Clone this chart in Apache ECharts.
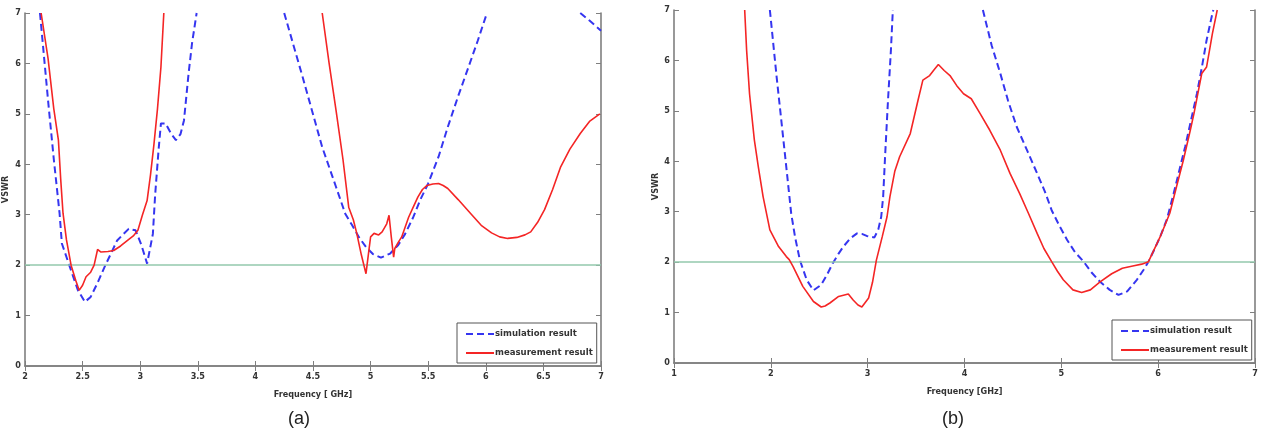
<!DOCTYPE html>
<html>
<head>
<meta charset="UTF-8">
<script src="https://cdn.jsdelivr.net/npm/echarts@6/dist/echarts.min.js"></script>
<style>
  html, body { margin: 0; padding: 0; background: #fff; }
  #main { width: 1261px; height: 430px; }
</style>
</head>
<body>
<div id="main"></div>
<script>
// VSWR threshold drawn as the green reference line
var vswrLimit = 2;

// (a) simulation / measurement, [GHz, VSWR]; '-' breaks the curve where it leaves the plot
var simA = [[2.13,7],[2.20,5.27],[2.25,4.1],[2.30,3.03],[2.32,2.43],[2.39,1.96],[2.46,1.5],[2.52,1.27],[2.57,1.37],
  [2.63,1.65],[2.69,1.96],[2.80,2.49],[2.90,2.72],[2.96,2.69],[3.01,2.4],[3.06,2.03],[3.11,2.62],[3.13,3.4],
  [3.16,4.3],[3.18,4.81],[3.22,4.81],[3.27,4.6],[3.31,4.48],[3.35,4.6],[3.38,4.87],[3.42,5.8],[3.45,6.4],[3.49,7],
  ['-','-'],
  [4.25,7],[4.41,5.73],[4.58,4.34],[4.70,3.55],[4.78,3.02],[4.84,2.79],[4.90,2.55],[4.96,2.36],[5.02,2.22],
  [5.09,2.15],[5.17,2.23],[5.24,2.4],[5.30,2.62],[5.37,2.95],[5.43,3.29],[5.50,3.62],[5.59,4.15],[5.67,4.74],
  [5.76,5.35],[5.85,5.93],[5.93,6.45],[6.01,7],
  ['-','-'],
  [6.82,7],[6.9,6.85],[7.0,6.65]];

var measA = [[2.14,7],[2.20,6.1],[2.25,5.1],[2.29,4.48],[2.31,3.7],[2.33,3.03],[2.36,2.5],[2.40,2.0],[2.44,1.7],
  [2.47,1.5],[2.50,1.6],[2.53,1.77],[2.57,1.86],[2.60,2.0],[2.63,2.31],[2.66,2.26],[2.72,2.27],[2.77,2.29],
  [2.83,2.38],[2.89,2.49],[2.94,2.58],[2.98,2.69],[3.02,3.0],[3.06,3.28],[3.09,3.8],[3.12,4.41],[3.15,5.1],
  [3.18,5.93],[3.205,7],
  ['-','-'],
  [4.58,7],[4.64,6.0],[4.70,5.07],[4.76,4.1],[4.81,3.15],[4.85,2.9],[4.88,2.63],[4.92,2.2],[4.96,1.83],[4.98,2.2],
  [5.00,2.56],[5.03,2.63],[5.07,2.6],[5.10,2.66],[5.14,2.82],[5.16,2.99],[5.18,2.55],[5.20,2.16],[5.21,2.33],
  [5.24,2.45],[5.27,2.56],[5.33,2.95],[5.37,3.15],[5.41,3.35],[5.45,3.5],[5.49,3.58],[5.54,3.61],[5.59,3.62],
  [5.63,3.58],[5.67,3.52],[5.76,3.3],[5.87,3.02],[5.96,2.79],[6.05,2.64],[6.12,2.56],[6.19,2.53],[6.27,2.55],
  [6.34,2.6],[6.39,2.66],[6.45,2.85],[6.51,3.1],[6.58,3.5],[6.65,3.95],[6.73,4.3],[6.82,4.61],[6.9,4.85],[6.99,5.0]];

// (b)
var simB = [[1.99,7],[2.06,5.67],[2.13,4.42],[2.17,3.7],[2.21,2.97],[2.25,2.5],[2.30,2.04],[2.37,1.65],[2.44,1.44],
  [2.52,1.55],[2.58,1.75],[2.64,1.98],[2.70,2.17],[2.75,2.31],[2.82,2.47],[2.89,2.57],[2.94,2.56],[2.99,2.52],
  [3.07,2.49],[3.11,2.65],[3.14,2.90],[3.16,3.3],[3.18,4.1],[3.21,5.21],[3.24,6.2],[3.26,7],
  ['-','-'],
  [4.19,7],[4.28,6.3],[4.37,5.74],[4.45,5.2],[4.54,4.68],[4.65,4.2],[4.75,3.76],[4.83,3.4],[4.90,3.03],[4.98,2.72],
  [5.06,2.44],[5.14,2.2],[5.23,2.01],[5.31,1.8],[5.40,1.61],[5.50,1.45],[5.59,1.35],[5.68,1.42],[5.78,1.65],
  [5.85,1.85],[5.90,2.01],[5.96,2.25],[6.02,2.50],[6.09,2.85],[6.16,3.36],[6.28,4.3],[6.40,5.34],[6.45,5.85],
  [6.50,6.40],[6.56,6.93],[6.57,7]];

var measB = [[1.73,7],[1.75,6.2],[1.78,5.34],[1.83,4.42],[1.87,3.9],[1.92,3.3],[1.99,2.64],[2.08,2.31],[2.16,2.11],
  [2.19,2.05],[2.23,1.91],[2.33,1.52],[2.44,1.22],[2.52,1.11],[2.56,1.13],[2.61,1.19],[2.70,1.32],[2.80,1.37],
  [2.85,1.25],[2.90,1.15],[2.94,1.11],[3.01,1.29],[3.05,1.6],[3.09,2.04],[3.15,2.5],[3.20,2.90],[3.23,3.3],
  [3.28,3.8],[3.33,4.09],[3.44,4.55],[3.52,5.21],[3.57,5.61],[3.64,5.70],[3.68,5.8],[3.73,5.92],[3.79,5.8],
  [3.85,5.7],[3.92,5.5],[3.99,5.34],[4.07,5.24],[4.16,4.95],[4.26,4.62],[4.37,4.22],[4.47,3.76],[4.57,3.36],
  [4.66,2.97],[4.75,2.57],[4.82,2.27],[4.90,2.01],[4.96,1.82],[5.02,1.65],[5.12,1.45],[5.21,1.40],[5.30,1.45],
  [5.40,1.61],[5.52,1.77],[5.63,1.88],[5.75,1.93],[5.83,1.96],[5.90,2.01],[6.02,2.50],[6.12,2.97],[6.19,3.5],
  [6.26,4.02],[6.33,4.6],[6.37,4.95],[6.45,5.74],[6.50,5.87],[6.53,6.2],[6.56,6.53],[6.61,7]];

var seriesNames = ['simulation result', 'measurement result'];
var xNames = ['Frequency [ GHz]', 'Frequency [GHz]'];

var font = 'DejaVu Sans Condensed';
var axisGray = '#7f7f7f';
var labelStyle = { color: '#333', fontFamily: font, fontWeight: 'bold', fontSize: 9 };

function bottomX(grid, min, max, step, name) {
    return {
        type: 'value', gridIndex: grid, min: min, max: max, interval: step, position: 'bottom',
        name: name, nameLocation: 'middle', nameGap: 24,
        nameTextStyle: { color: '#333', fontFamily: font, fontWeight: 'bold', fontSize: 9 },
        axisLine: { lineStyle: { color: axisGray, width: 1.6 } },
        axisTick: { inside: true, length: 5, lineStyle: { color: axisGray } },
        axisLabel: Object.assign({ margin: 6 }, labelStyle),
        splitLine: { show: false }
    };
}
function topX(grid, min, max, step) {
    return {
        type: 'value', gridIndex: grid, min: min, max: max, interval: step, position: 'top',
        axisLine: { lineStyle: { color: axisGray, width: 1.6 } },
        axisTick: { inside: true, length: 5, lineStyle: { color: axisGray } },
        axisLabel: { show: false }, splitLine: { show: false }
    };
}
function leftY(grid, gap) {
    return {
        type: 'value', gridIndex: grid, min: 0, max: 7, interval: 1, position: 'left',
        name: 'VSWR', nameLocation: 'middle', nameGap: gap, nameRotate: 90,
        nameTextStyle: { color: '#333', fontFamily: font, fontWeight: 'bold', fontSize: 9 },
        axisLine: { lineStyle: { color: axisGray, width: 1.6 } },
        axisTick: { inside: true, length: 5, lineStyle: { color: axisGray } },
        axisLabel: Object.assign({ margin: 4 }, labelStyle),
        splitLine: { show: false }
    };
}
function rightY(grid) {
    return {
        type: 'value', gridIndex: grid, min: 0, max: 7, interval: 1, position: 'right',
        axisLine: { lineStyle: { color: axisGray, width: 1.6 } },
        axisTick: { inside: true, length: 5, lineStyle: { color: axisGray } },
        axisLabel: { show: false }, splitLine: { show: false }
    };
}
function simSeries(data, xi, yi) {
    return {
        name: seriesNames[0], type: 'line', data: data, xAxisIndex: xi, yAxisIndex: yi,
        symbol: 'none', connectNulls: false, z: 4,
        lineStyle: { color: '#3535f0', width: 2, type: [7, 4] },
        itemStyle: { color: '#3535f0' },
        markLine: {
            silent: true, symbol: 'none', label: { show: false },
            lineStyle: { color: '#93c8ad', width: 1.5, type: 'solid' },
            data: [{ yAxis: vswrLimit }]
        }
    };
}
function measSeries(data, xi, yi) {
    return {
        name: seriesNames[1], type: 'line', data: data, xAxisIndex: xi, yAxisIndex: yi,
        symbol: 'none', connectNulls: false, z: 5,
        lineStyle: { color: '#f42525', width: 1.6 },
        itemStyle: { color: '#f42525' }
    };
}
function legendBox(left, top) {
    return {
        left: left, top: top, orient: 'vertical', data: seriesNames,
        itemWidth: 28, itemHeight: 8, itemGap: 9, padding: [6, 4, 5, 8],
        borderColor: '#555', borderWidth: 1, backgroundColor: '#fff',
        selectedMode: false,
        itemStyle: { opacity: 0 },
        textStyle: { color: '#333', fontFamily: font, fontWeight: 'bold', fontSize: 9.5, padding: [0, 0, 0, -4] }
    };
}

var chart = echarts.init(document.getElementById('main'), null, { renderer: 'canvas' });
chart.setOption({
    animation: false,
    backgroundColor: '#fff',
    title: [
        { text: '(a)', left: 283, top: 405, textStyle: { fontFamily: 'Liberation Sans', fontWeight: 'normal', fontSize: 18, color: '#222' } },
        { text: '(b)', left: 937, top: 405, textStyle: { fontFamily: 'Liberation Sans', fontWeight: 'normal', fontSize: 18, color: '#222' } }
    ],
    grid: [
        { left: 20, right: 660, top: 13, bottom: 64 },
        { left: 674, right: 6, top: 10, bottom: 67 }
    ],
    xAxis: [
        bottomX(0, 2, 7, 0.5, xNames[0]), topX(0, 2, 7, 0.5),
        bottomX(1, 1, 7, 1, xNames[1]), topX(1, 1, 7, 1)
    ],
    yAxis: [
        leftY(0, 15), rightY(0),
        leftY(1, 14), rightY(1)
    ],
    legend: [legendBox(457, 323), legendBox(1112, 320)],
    series: [
        simSeries(simA, 0, 0), measSeries(measA, 0, 0),
        simSeries(simB, 2, 2), measSeries(measB, 2, 2)
    ]
});
</script>
</body>
</html>
